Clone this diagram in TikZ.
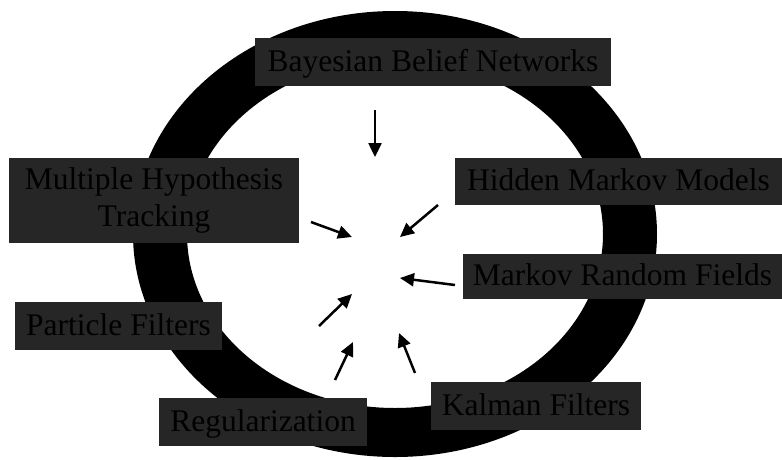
\documentclass[tikz,border=0pt]{standalone}
\usepackage{fontspec}
\setmainfont{Liberation Serif}
\usepackage{tikz}
\usetikzlibrary{arrows.meta}
\definecolor{boxgray}{RGB}{38,38,38}
\newcommand{\labelfont}{\fontsize{31.5}{37}\selectfont}

\begin{document}
\begin{tikzpicture}[
  x=1pt, y=-1pt,
  box/.style={fill=boxgray, text=black, inner sep=0pt, font=\labelfont, align=center},
  onebox/.style={box, text height=23pt, text depth=5pt},
  arrow/.style={-{Triangle[length=14pt, width=13pt]}, line width=2.5pt, color=black}
]
\useasboundingbox (0,0) rectangle (782,459);
\fill[black, even odd rule] (395,234) ellipse [x radius=262, y radius=223]
  (395,234) ellipse [x radius=208, y radius=174];
\node[onebox, minimum width=356pt, minimum height=48pt] (bbn) at (433,62) {Bayesian Belief Networks};
\node[box, minimum width=290pt, minimum height=85pt] (mht) at (154,200.5) {Multiple Hypothesis\\Tracking};
\node[onebox, minimum width=327pt, minimum height=47pt] (hmm) at (618.5,181.5) {Hidden Markov Models};
\node[onebox, minimum width=319pt, minimum height=45pt] (mrf) at (622.5,276.5) {Markov Random Fields};
\node[onebox, minimum width=207pt, minimum height=48pt] (pf) at (118.5,326) {Particle Filters};
\node[onebox, minimum width=208pt, minimum height=48pt] (reg) at (263,422) {Regularization};
\node[onebox, minimum width=210pt, minimum height=48pt] (kal) at (536,406) {Kalman Filters};
\coordinate (bbn-s) at (375,110);
\coordinate (bbn-t) at (375,157);
\coordinate (mht-s) at (311,222);
\coordinate (mht-t) at (352,237);
\coordinate (hmm-s) at (438,205);
\coordinate (hmm-t) at (400,237);
\coordinate (mrf-s) at (455,285);
\coordinate (mrf-t) at (400,278);
\coordinate (pf-s) at (319,326);
\coordinate (pf-t) at (352,294);
\coordinate (reg-s) at (335,380);
\coordinate (reg-t) at (353,342);
\coordinate (kal-s) at (415,373);
\coordinate (kal-t) at (399,333);
\draw[arrow] (bbn-s) -- (bbn-t);
\draw[arrow] (mht-s) -- (mht-t);
\draw[arrow] (hmm-s) -- (hmm-t);
\draw[arrow] (mrf-s) -- (mrf-t);
\draw[arrow] (pf-s) -- (pf-t);
\draw[arrow] (reg-s) -- (reg-t);
\draw[arrow] (kal-s) -- (kal-t);
\end{tikzpicture}
\end{document}
